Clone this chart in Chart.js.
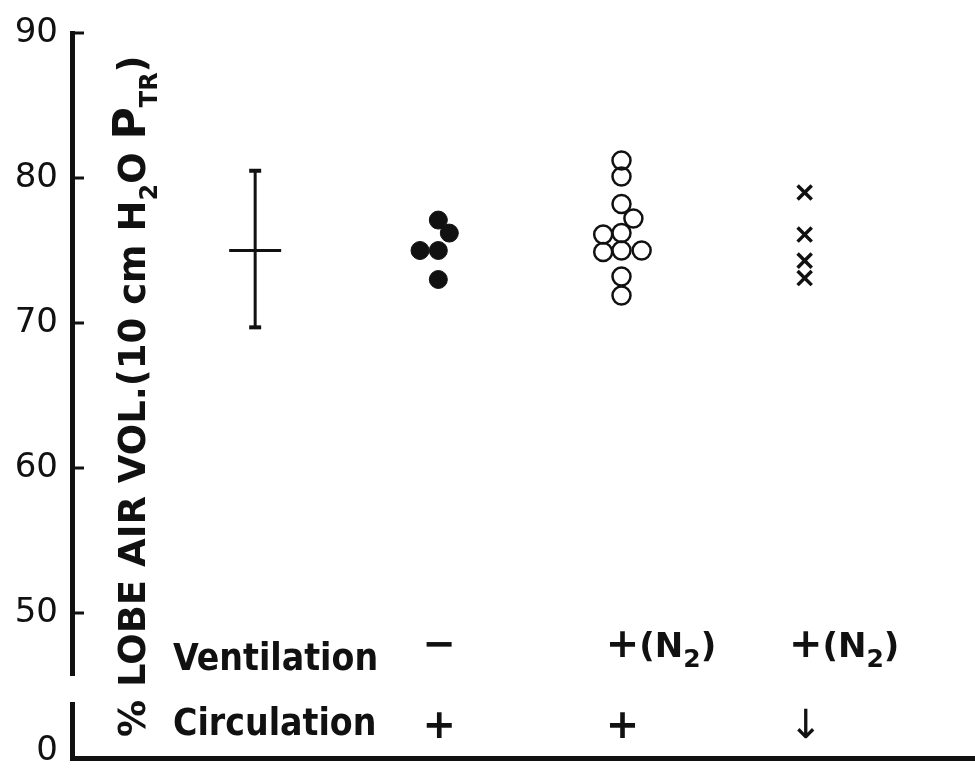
<!DOCTYPE html>
<html>
<head>
<meta charset="utf-8">
<script src="https://cdn.jsdelivr.net/npm/chart.js@4.4.1/dist/chart.umd.min.js"></script>
<style>
  html, body { margin: 0; padding: 0; background: #fff; }
  #wrap { width: 975px; height: 771px; }
</style>
</head>
<body>
<div id="wrap"><canvas id="chart" width="975" height="771"></canvas></div>
<script>
// group positions on the x axis (1 = normal range, 2..4 = experiments)
const groupX = [1, 2, 3, 4];
const ventilationLabels = ['', '−', '+(N_2)', '+(N_2)'];
const circulationLabels = ['', '+', '+', '↓'];

// normal lobe: mean and range
const normalMean = 75;
const normalLow = 69.7;
const normalHigh = 80.5;

// no ventilation, circulation intact (filled circles)
const noVentValues = [77.1, 76.2, 75.0, 75.0, 73.0];
const noVentSpread = [0, 0.06, -0.1, 0, 0];

// N2 ventilation, circulation intact (open circles)
const n2VentValues = [81.2, 80.1, 78.2, 77.2, 76.1, 76.2, 74.9, 75.0, 75.0, 73.2, 71.9];
const n2VentSpread = [0, 0, 0, 0.065, -0.1, 0, -0.1, 0, 0.11, 0, 0];

// N2 ventilation, circulation stopped (crosses)
const n2NoCircValues = [79.0, 76.1, 74.3, 73.1];

// y axis is broken: the lowest tick stands for 0
const yTickValues = [40, 50, 60, 70, 80, 90];
const yTickLabels = ['0', '50', '60', '70', '80', '90'];
const yTitleParts = [['% LOBE AIR VOL.(10 cm H', 'n'], ['2', 's'], ['O ', 'n'], ['P', 'b'], ['TR', 's'], [')', 'n']];
const rowTitles = ['Ventilation', 'Circulation'];

const ink = '#111';

const fonts = {
  title: "bold 37px 'DejaVu Sans'",
  titleBig: "bold 44px 'DejaVu Sans'",
  titleSub: "bold 24px 'DejaVu Sans'",
  row: "bold 37px 'DejaVu Sans Condensed', 'Liberation Sans Narrow', 'DejaVu Sans'",
  sign: "bold 40px 'DejaVu Sans'",
  label: "bold 34px 'DejaVu Sans'",
  labelSub: "bold 25px 'DejaVu Sans'",
  arrow: "40px 'DejaVu Sans'"
};

function drawLabel(ctx, text, cx, baseline) {
  // split into tokens: signs, subscripts, plain text
  const toks = [];
  for (let i = 0; i < text.length; i++) {
    const ch = text[i];
    if (ch === '_') { toks.push([text[i + 1], fonts.labelSub, 10]); i++; }
    else if (ch === '+' || ch === '−') { toks.push([ch, fonts.sign, 0]); }
    else if (ch === '↓') { toks.push([ch, fonts.arrow, 0]); }
    else { toks.push([ch, fonts.label, 0]); }
  }
  if (!toks.length) {return;}
  ctx.font = toks[0][1];
  let x = cx - ctx.measureText(toks[0][0]).width / 2;
  for (const [t, f, dy] of toks) {
    ctx.font = f;
    ctx.fillText(t, x, baseline + dy);
    x += ctx.measureText(t).width;
  }
}

const overlay = {
  id: 'overlay',
  afterDraw(chart) {
    const ctx = chart.ctx;
    const area = chart.chartArea;
    const ys = chart.scales.y;
    const xs = chart.scales.x;
    ctx.save();

    // axis break
    ctx.fillStyle = '#fff';
    ctx.fillRect(area.left - 10, 676, 22, 26);

    // inward tick marks
    ctx.strokeStyle = ink;
    ctx.lineWidth = 3;
    yTickValues.slice(1).forEach(v => {
      const y = ys.getPixelForValue(v);
      ctx.beginPath();
      ctx.moveTo(area.left, y);
      ctx.lineTo(area.left + 12, y);
      ctx.stroke();
    });

    ctx.fillStyle = ink;
    ctx.textBaseline = 'alphabetic';
    ctx.textAlign = 'left';

    // rotated y title inside the plot
    ctx.save();
    ctx.translate(145, 737);
    ctx.rotate(-Math.PI / 2);
    let tx = 0;
    yTitleParts.forEach(([t, s]) => {
      ctx.font = s === 's' ? fonts.titleSub : (s === 'b' ? fonts.titleBig : fonts.title);
      ctx.fillText(t, tx, s === 's' ? 12 : 0);
      tx += ctx.measureText(t).width;
    });
    ctx.restore();

    // condition table
    ctx.font = fonts.row;
    ctx.fillText(rowTitles[0], 173, 670);
    ctx.fillText(rowTitles[1], 173, 735);
    groupX.forEach((g, i) => {
      const px = xs.getPixelForValue(g) + 1;
      drawLabel(ctx, ventilationLabels[i], px, 657);
      drawLabel(ctx, circulationLabels[i], px, 738);
    });

    ctx.restore();
  }
};

new Chart(document.getElementById('chart'), {
  type: 'scatter',
  data: {
    datasets: [
      {
        data: [{ x: groupX[0], y: normalLow }, { x: groupX[0], y: normalHigh }],
        showLine: true,
        borderColor: ink,
        borderWidth: 3,
        pointStyle: 'line',
        pointRadius: 6,
        pointBorderWidth: 4,
        pointBorderColor: ink
      },
      {
        data: [{ x: groupX[0], y: normalMean }],
        pointStyle: 'line',
        pointRadius: 26,
        pointBorderWidth: 3,
        pointBorderColor: ink
      },
      {
        data: noVentValues.map((v, i) => ({ x: groupX[1] + noVentSpread[i], y: v })),
        pointStyle: 'circle',
        pointRadius: 9,
        pointBackgroundColor: ink,
        pointBorderColor: ink,
        pointBorderWidth: 1
      },
      {
        data: n2VentValues.map((v, i) => ({ x: groupX[2] + n2VentSpread[i], y: v })),
        pointStyle: 'circle',
        pointRadius: 9,
        pointBackgroundColor: 'rgba(0,0,0,0)',
        pointBorderColor: ink,
        pointBorderWidth: 2.5
      },
      {
        data: n2NoCircValues.map(v => ({ x: groupX[3], y: v })),
        pointStyle: 'crossRot',
        pointRadius: 10,
        pointBorderWidth: 3.5,
        pointBorderColor: ink
      }
    ]
  },
  options: {
    responsive: false,
    animation: false,
    events: [],
    layout: { autoPadding: false, padding: { top: 33, left: 0, right: 0, bottom: 0 } },
    plugins: { legend: { display: false }, tooltip: { enabled: false } },
    scales: {
      x: {
        type: 'linear',
        min: 0,
        max: 4.93,
        grid: { display: false, drawTicks: false },
        ticks: { display: false },
        border: { display: true, color: ink, width: 5 },
        afterFit: s => { s.height = 13; s.paddingLeft = 0; s.paddingRight = 0; }
      },
      y: {
        min: 40,
        max: 90,
        afterBuildTicks: s => { s.ticks = yTickValues.map(v => ({ value: v })); },
        ticks: {
          // the "0" sits a little above the bottom axis line, so give it an empty second line
          callback: (v, i) => (i === 0 ? [yTickLabels[i], ''] : yTickLabels[i]),
          color: ink,
          padding: 14,
          font: { family: "'DejaVu Sans'", size: 34, lineHeight: '14px' }
        },
        grid: { display: false, drawTicks: false },
        border: { display: true, color: ink, width: 5 },
        afterFit: s => { s.width = 72; s.paddingTop = 0; s.paddingBottom = 0; }
      }
    }
  },
  plugins: [overlay]
});
</script>
</body>
</html>
